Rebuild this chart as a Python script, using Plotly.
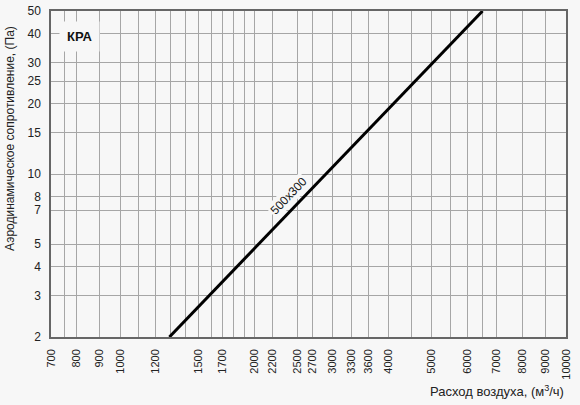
import math
import plotly.graph_objects as go

# Расход воздуха, м3/ч -> сопротивление, Па (кривая 500x300)
flow = [1290, 6500]
pressure = [2, 50]
curve_name = "500x300"

# подписанные линии сетки по оси X
x_ticks = [700, 800, 900, 1000, 1200, 1500, 1700, 2000, 2200, 2500, 2700,
           3000, 3300, 3600, 4000, 5000, 6000, 7000, 8000, 9000, 10000]
x_labels = [str(v) for v in x_ticks]
# неподписанные линии сетки по оси X
x_minor = [750, 1100, 1300, 1400, 1600, 1800, 1900, 4500, 5500, 6500]

# линии сетки и подписи по оси Y
y_ticks = [2, 3, 4, 5, 7, 8, 10, 15, 20, 25, 30, 40, 50]
y_labels = [str(v) for v in y_ticks]

bg = "#f7f7f7"
grid = "#a6a6a6"
font = "Liberation Sans"

fig = go.Figure()

fig.add_trace(go.Scatter(
    x=flow, y=pressure,
    mode="lines",
    line=dict(color="black", width=3),
    hoverinfo="none",
    showlegend=False
))

# положение подписи кривой (точка на линии в логарифмическом масштабе)
lx = 2490
t = (math.log10(lx) - math.log10(flow[0])) / (math.log10(flow[1]) - math.log10(flow[0]))
ly = 10 ** (math.log10(pressure[0]) + t * (math.log10(pressure[1]) - math.log10(pressure[0])))

fig.add_annotation(
    x=math.log10(lx), y=math.log10(ly), xref="x", yref="y",
    text=curve_name, showarrow=False, textangle=-46,
    xshift=-8, yshift=8,
    font=dict(family=font, size=12, color="#111"),
    bgcolor=bg, borderpad=1
)

fig.add_annotation(
    x=math.log10(813), y=math.log10(39), xref="x", yref="y",
    text="<b>КРА</b>", showarrow=False,
    font=dict(family=font, size=13, color="#111"),
    bgcolor=bg, borderpad=7
)

fig.add_annotation(
    x=-0.08, y=0.61, xref="paper", yref="paper", xanchor="center", yanchor="middle",
    text="Аэродинамическое сопротивление, (Па)", showarrow=False, textangle=-90,
    font=dict(family=font, size=12, color="#222")
)

fig.add_annotation(
    x=1, y=-0.135, xref="paper", yref="paper", xanchor="right", yanchor="top",
    text="Расход воздуха, (м<sup>3</sup>/ч)", showarrow=False,
    font=dict(family=font, size=13, color="#222")
)

fig.update_xaxes(
    type="log", range=[math.log10(700), 4],
    tickvals=x_ticks, ticktext=x_labels, tickangle=-90,
    showgrid=True, gridcolor=grid, gridwidth=1.3,
    minor=dict(tickvals=x_minor, showgrid=True, gridcolor=grid, gridwidth=1.3, ticks=""),
    showline=True, linecolor="#666", linewidth=1.5, mirror=True,
    ticks="", ticklabelstandoff=6, automargin=False,
    tickfont=dict(family=font, size=11, color="#222"),
    zeroline=False
)
fig.update_yaxes(
    type="log", range=[math.log10(2), math.log10(50)],
    tickvals=y_ticks, ticktext=y_labels,
    showgrid=True, gridcolor=grid, gridwidth=1.3,
    showline=True, linecolor="#666", linewidth=1.5, mirror=True,
    ticks="", ticklabelstandoff=6, automargin=False, ticklabeloverflow="allow",
    tickfont=dict(family=font, size=12, color="#222"),
    zeroline=False
)

fig.update_layout(
    width=580, height=405,
    margin=dict(l=51, r=14, t=11, b=68, autoexpand=False),
    paper_bgcolor=bg, plot_bgcolor=bg,
    showlegend=False
)

# убрать стандартный отступ страницы, чтобы график занял всё окно
fig.write_html("out.html", config={"displayModeBar": False},
               post_script="document.body.style.margin='0';"
               "document.body.style.background='#f7f7f7';")
